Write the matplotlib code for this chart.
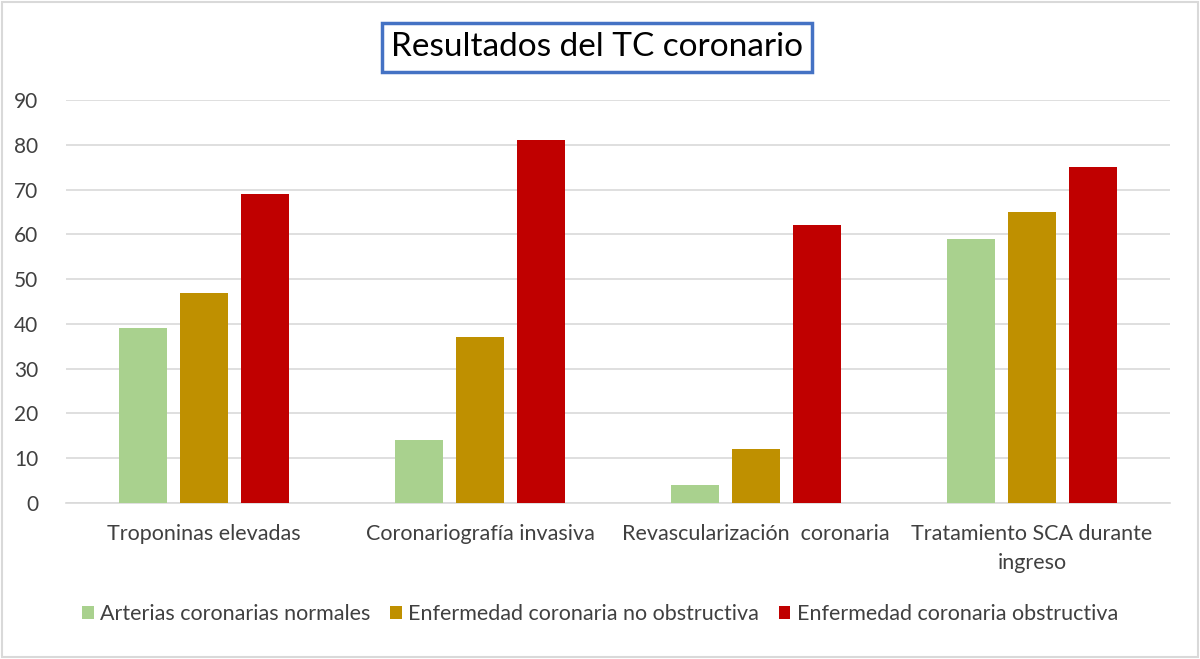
import matplotlib.pyplot as plt
import numpy as np
from matplotlib.patches import Rectangle

categorias = ["Troponinas elevadas", "Coronariografía invasiva",
              "Revascularización  coronaria", "Tratamiento SCA durante\ningreso"]
series = ["Arterias coronarias normales", "Enfermedad coronaria no obstructiva",
          "Enfermedad coronaria obstructiva"]
normales = [39, 14, 4, 59]
no_obstructiva = [47, 37, 12, 65]
obstructiva = [69, 81, 62, 75]
colores = ["#a9d18e", "#bf9000", "#c00000"]

plt.rcParams["font.family"] = ["Lato", "DejaVu Sans"]

fig = plt.figure(figsize=(12, 6.59), dpi=100)
ax = fig.add_axes([0.055, 0.2367, 0.92, 0.6115])

x = np.arange(len(categorias))
ancho = 0.174
paso = 0.221
for i, (vals, nombre) in enumerate(zip([normales, no_obstructiva, obstructiva], series)):
    ax.bar(x + (i - 1) * paso, vals, ancho, color=colores[i], label=nombre, zorder=3)

ax.set_xlim(-0.5, len(categorias) - 0.5)
ax.set_ylim(0, 90)
ax.set_yticks(range(0, 91, 10))
ax.yaxis.grid(True, color="#d9d9d9", linewidth=1.2, zorder=0)
ax.set_xticks(x)
ax.set_xticklabels(categorias, fontsize=15.5, color="#404040", linespacing=1.55)
ax.tick_params(axis="y", labelsize=15, labelcolor="#404040", length=0, pad=20)
ax.tick_params(axis="x", length=0, pad=15)
for s in ["top", "right", "left"]:
    ax.spines[s].set_visible(False)
ax.spines["bottom"].set_color("#d9d9d9")
ax.spines["bottom"].set_linewidth(1.2)

fig.text(0.4975, 0.928, "Resultados del TC coronario", fontsize=24, color="black",
         ha="center", va="center",
         bbox=dict(boxstyle="square,pad=0.28", facecolor="white", edgecolor="#4472c4", linewidth=2.5))

fig.legend(loc="center", bbox_to_anchor=(0.5, 0.068), ncol=3, frameon=False,
           fontsize=15.5, handlelength=0.55, handleheight=0.6, handletextpad=0.3,
           columnspacing=0.9, labelcolor="#404040")

fig.patches.append(Rectangle((0.002, 0.003), 0.996, 0.994, transform=fig.transFigure,
                             fill=False, edgecolor="#d9d9d9", linewidth=1.5))

fig.savefig("out.png", dpi=100)
